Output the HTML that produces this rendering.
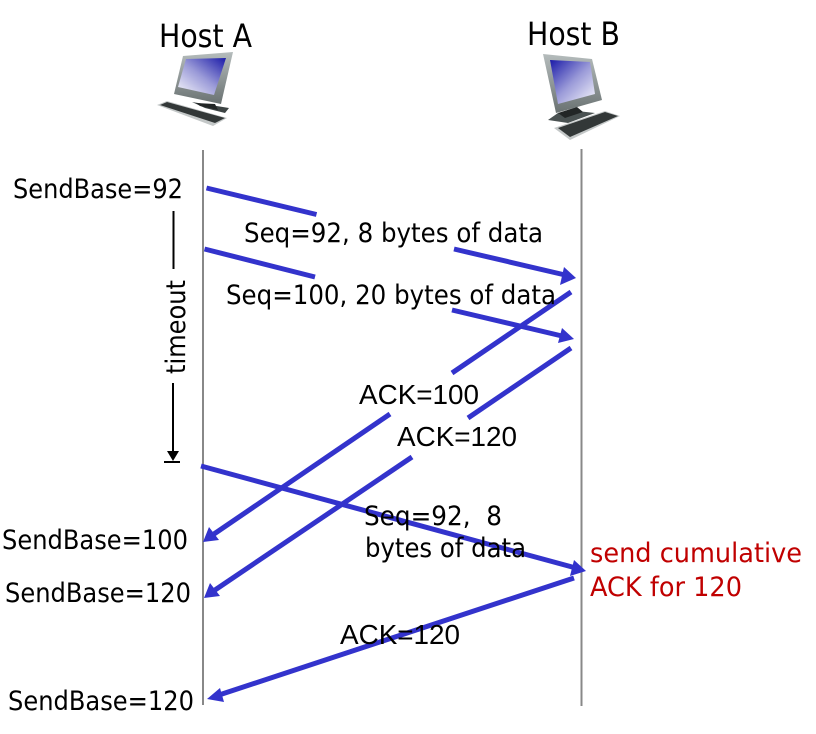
<!DOCTYPE html>
<html>
<head>
<meta charset="utf-8">
<style>
html,body{margin:0;padding:0;background:#fff;}
svg{display:block;}
.t{font-family:"DejaVu Sans",sans-serif;fill:#000;}
.a{font-family:"Liberation Sans",sans-serif;fill:#000;}
.r{font-family:"DejaVu Sans",sans-serif;fill:#c00000;}
</style>
</head>
<body>
<svg width="816" height="734" viewBox="0 0 816 734" xmlns="http://www.w3.org/2000/svg">
<defs>
<linearGradient id="sa" x1="1" y1="0" x2="0" y2="1">
<stop offset="0" stop-color="#1a1aa8"/><stop offset="0.5" stop-color="#9a9ad8"/><stop offset="1" stop-color="#f8f8fc"/>
</linearGradient>
<linearGradient id="sb" x1="0" y1="0" x2="1" y2="1">
<stop offset="0" stop-color="#1a1aa8"/><stop offset="0.5" stop-color="#9a9ad8"/><stop offset="1" stop-color="#f8f8fc"/>
</linearGradient>
<linearGradient id="fr" x1="0" y1="0" x2="0" y2="1">
<stop offset="0" stop-color="#b5bcbc"/><stop offset="1" stop-color="#6a7272"/>
</linearGradient>
</defs>

<!-- Host A computer -->
<polygon points="192,102 229,108 225,113 205,108" fill="#3d4444"/>
<polygon points="157,105 167,101 227,118 213,126" fill="#c4c8c8"/>
<polygon points="160,105 167,102 225,118 215,123" fill="#333838"/>
<polygon points="183,56 233,52 221,104 174,94" fill="url(#fr)"/>
<polygon points="186,59 226,58 214,95 178,87" fill="url(#sa)"/>
<polygon points="196,103 215,104 218,110 200,106" fill="#222626"/>

<!-- Host B computer -->
<polygon points="548,120 558,113 577,111 595,113 568,123" fill="#4a5252"/>
<polygon points="554,128 605,111 620,116 570,140" fill="#c4c8c8"/>
<polygon points="558,128 605,112 618,116 570,137" fill="#333838"/>
<polygon points="543,54 592,59 602,100 556,113" fill="url(#fr)"/>
<polygon points="550,60 590,62 595,94 558,104" fill="url(#sb)"/>
<polygon points="558,113 577,107 583,112 565,118" fill="#222626"/>

<!-- Lifelines -->
<line x1="203" y1="150" x2="203" y2="705" stroke="#888" stroke-width="2"/>
<line x1="581.5" y1="149" x2="581.5" y2="706" stroke="#888" stroke-width="2"/>

<!-- Timeout -->
<g stroke="#000" stroke-width="2">
<line x1="173.5" y1="211" x2="173.5" y2="269"/>
<line x1="173" y1="383" x2="173" y2="453"/>
<line x1="164" y1="462" x2="180" y2="462"/>
</g>
<polygon points="167,451 179,451 173,461" fill="#000"/>

<!-- Connectors -->
<g stroke="#3333cc" stroke-width="5" fill="none">
<line x1="206.5" y1="188" x2="316.5" y2="214.5"/>
<line x1="454" y1="249" x2="563" y2="274.5"/>
<line x1="204.5" y1="249" x2="315" y2="277"/>
<line x1="452" y1="310" x2="562" y2="336"/>
<line x1="571" y1="292" x2="452" y2="373"/>
<line x1="390" y1="414" x2="214" y2="534"/>
<line x1="571" y1="348" x2="468" y2="418"/>
<line x1="412" y1="457" x2="215" y2="590"/>
<line x1="201" y1="466" x2="574" y2="567.5"/>
<line x1="574" y1="578" x2="219" y2="695"/>
</g>
<g fill="#3333cc">
<polygon points="576,278 560,285 564,267"/>
<polygon points="574,339 558,343 562,328"/>
<polygon points="203,542 209,527 219,540"/>
<polygon points="204,598 210,583 220,596"/>
<polygon points="586,571 570,576 574,560"/>
<polygon points="207,699 220,688 224,702"/>
</g>

<!-- Labels -->
<text class="t" x="159" y="47" font-size="32" textLength="93" lengthAdjust="spacingAndGlyphs">Host A</text>
<text class="t" x="527" y="45" font-size="32" textLength="93" lengthAdjust="spacingAndGlyphs">Host B</text>
<text class="t" x="13" y="198" font-size="27" textLength="170" lengthAdjust="spacingAndGlyphs">SendBase=92</text>
<text class="t" x="244" y="242" font-size="27" textLength="299" lengthAdjust="spacingAndGlyphs">Seq=92, 8 bytes of data</text>
<text class="t" x="226" y="304" font-size="27" textLength="330" lengthAdjust="spacingAndGlyphs">Seq=100, 20 bytes of data</text>
<text class="t" transform="translate(185,374) rotate(-90)" font-size="27" textLength="94" lengthAdjust="spacingAndGlyphs">timeout</text>
<text class="a" x="359" y="404" font-size="28" textLength="120" lengthAdjust="spacingAndGlyphs">ACK=100</text>
<text class="a" x="397" y="446" font-size="28" textLength="120" lengthAdjust="spacingAndGlyphs">ACK=120</text>
<text class="t" x="364" y="525" font-size="27" textLength="138" lengthAdjust="spacingAndGlyphs" xml:space="preserve">Seq=92,  8</text>
<text class="t" x="365" y="557" font-size="27" textLength="161" lengthAdjust="spacingAndGlyphs">bytes of data</text>
<text class="t" x="2" y="549" font-size="27" textLength="186" lengthAdjust="spacingAndGlyphs">SendBase=100</text>
<text class="t" x="5" y="602" font-size="27" textLength="186" lengthAdjust="spacingAndGlyphs">SendBase=120</text>
<text class="t" x="8" y="710" font-size="27" textLength="186" lengthAdjust="spacingAndGlyphs">SendBase=120</text>
<text class="a" x="340" y="644" font-size="28" textLength="120" lengthAdjust="spacingAndGlyphs">ACK=120</text>
<text class="r" x="590" y="562" font-size="27" textLength="212" lengthAdjust="spacingAndGlyphs">send cumulative</text>
<text class="r" x="590" y="596" font-size="27" textLength="152" lengthAdjust="spacingAndGlyphs">ACK for 120</text>
</svg>
</body>
</html>
